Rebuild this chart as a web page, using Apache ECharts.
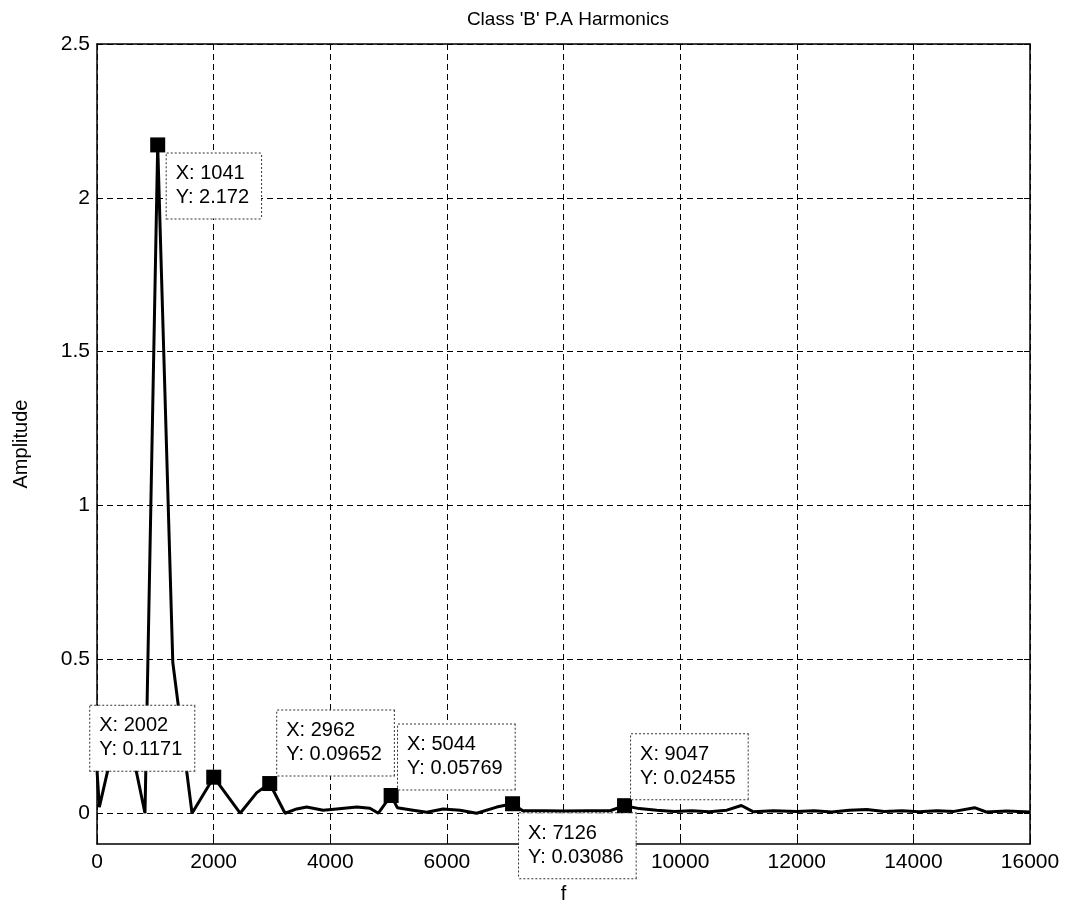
<!DOCTYPE html>
<html>
<head>
<meta charset="utf-8">
<script src="https://cdn.jsdelivr.net/npm/echarts@6/dist/echarts.min.js"></script>
<style>
html,body{margin:0;padding:0;background:#fff;}
#c{width:1069px;height:909px;}
</style>
</head>
<body>
<div id="c"></div>
<script>
// ---- data ----
const freq = [0, 40, 440, 823, 1041, 1300, 1630, 2002, 2455, 2740, 2962, 3225, 3425, 3596, 3880, 4110, 4455, 4680, 4825, 5044, 5150, 5420, 5655, 5935, 6225, 6510, 6855, 7126, 7300, 7700, 8000, 8400, 8800, 9047, 9300, 9600, 9900, 10200, 10500, 10800, 11050, 11250, 11600, 12000, 12300, 12600, 12900, 13200, 13500, 13800, 14100, 14400, 14700, 15050, 15250, 15600, 16000];
const amplitude = [0.14, 0.02, 0.35, 0, 2.172, 0.49, 0, 0.1171, 0, 0.067, 0.09652, 0, 0.014, 0.02, 0.01, 0.014, 0.02, 0.016, 0, 0.05769, 0.018, 0.01, 0.003, 0.014, 0.01, 0, 0.02, 0.03086, 0.008, 0.008, 0.007, 0.008, 0.008, 0.02455, 0.015, 0.01, 0.006, 0.008, 0.005, 0.01, 0.025, 0.005, 0.008, 0.006, 0.008, 0.004, 0.01, 0.012, 0.006, 0.008, 0.005, 0.008, 0.006, 0.018, 0.004, 0.007, 0.004];
const tipX = [1041, 2002, 2962, 5044, 7126, 9047];
const tipY = [2.172, 0.1171, 0.09652, 0.05769, 0.03086, 0.02455];
const yTicks = [0, 0.5, 1, 1.5, 2, 2.5];
const titleText = "Class 'B' P.A Harmonics";
const xName = 'f';
const yName = 'Amplitude';

// ---- layout of the data-tip boxes (pixel offsets from marker corner) ----
const tipLayout = [
  [16.5, 16],
  [-116, -64],
  [15, -65.5],
  [14.4, -63.6],
  [14, 17],
  [14, -64]
];

const FONT = "'Liberation Sans', Arial, Helvetica, sans-serif";
const lineData = freq.map((f, i) => [f, amplitude[i]]);
const tipData = tipX.map((x, i) => ({
  value: [x, tipY[i]],
  label: {position: tipLayout[i], align: 'left', verticalAlign: 'top'}
}));

const chart = echarts.init(document.getElementById('c'), null, {renderer: 'canvas'});
const dash = [6, 4];
chart.setOption({
  animation: false,
  backgroundColor: '#fff',
  title: {
    text: titleText, left: 563, top: 5, textAlign: 'center',
    textStyle: {fontFamily: FONT, fontSize: 19, fontWeight: 'normal', color: '#000'}
  },
  grid: {left: 97, right: 39, top: 44, bottom: 57, containLabel: false},
  xAxis: [{
    type: 'value', min: 0, max: 16000, interval: 2000, position: 'bottom',
    name: xName, nameLocation: 'middle', nameGap: 40,
    nameTextStyle: {fontFamily: FONT, fontSize: 20, color: '#000'},
    axisLine: {show: true, onZero: false, lineStyle: {color: '#000', width: 1.5}},
    axisTick: {show: true, inside: true, length: 6, lineStyle: {color: '#000'}},
    axisLabel: {fontFamily: FONT, fontSize: 21, color: '#000', margin: 8, formatter: v => String(v)},
    splitLine: {show: true, lineStyle: {color: '#000', width: 1, type: dash}}
  }, {
    type: 'value', min: 0, max: 16000, interval: 2000, position: 'top',
    axisLine: {show: true, onZero: false, lineStyle: {color: '#000', width: 1.5}},
    axisTick: {show: true, inside: true, length: 6, lineStyle: {color: '#000'}},
    axisLabel: {show: false}, splitLine: {show: false}
  }],
  yAxis: [{
    type: 'value', min: -0.1, max: 2.5, position: 'left',
    name: yName, nameLocation: 'middle', nameGap: 66,
    nameTextStyle: {fontFamily: FONT, fontSize: 20, color: '#000'},
    axisLine: {show: true, onZero: false, lineStyle: {color: '#000', width: 1.5}},
    axisTick: {show: true, inside: true, length: 6, customValues: yTicks, lineStyle: {color: '#000'}},
    axisLabel: {fontFamily: FONT, fontSize: 21, color: '#000', margin: 7, customValues: yTicks,
      formatter: v => String(v)},
    splitLine: {show: true, lineStyle: {color: '#000', width: 1, type: dash}}
  }, {
    type: 'value', min: -0.1, max: 2.5, position: 'right',
    axisLine: {show: true, onZero: false, lineStyle: {color: '#000', width: 1.5}},
    axisTick: {show: true, inside: true, length: 6, customValues: yTicks, lineStyle: {color: '#000'}},
    axisLabel: {show: false}, splitLine: {show: false}
  }],
  series: [{
    type: 'line', xAxisIndex: 0, yAxisIndex: 0,
    data: lineData, showSymbol: false, symbol: 'none',
    lineStyle: {color: '#000', width: 3}, z: 3
  }, {
    type: 'scatter', xAxisIndex: 0, yAxisIndex: 0,
    data: tipData, symbol: 'rect', symbolSize: 15,
    itemStyle: {color: '#000', opacity: 1}, z: 5,
    label: {
      show: true, opacity: 1,
      formatter: p => 'X: ' + p.value[0] + '\nY: ' + p.value[1],
      fontFamily: FONT, fontSize: 20, lineHeight: 24, color: '#000',
      backgroundColor: '#fff', borderColor: '#333', borderWidth: 1, borderType: 'dotted',
      padding: [8, 12, 9, 9]
    }
  }]
});
</script>
</body>
</html>
